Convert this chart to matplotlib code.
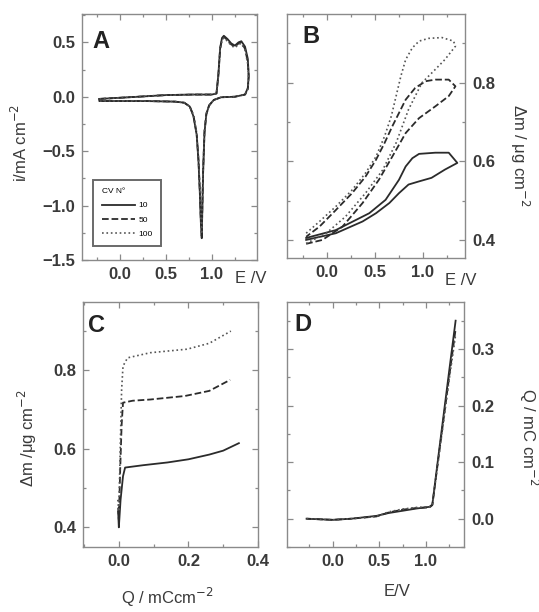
import numpy as np
import matplotlib.pyplot as plt
from matplotlib.ticker import MultipleLocator

plt.rcParams['font.family'] = ['Liberation Sans', 'DejaVu Sans']

# --- A: cyclic voltammograms (E / V, i / mA cm-2), same potential path for all cycles
E_a = [-0.22, 0.2, 0.5, 0.8, 1.0, 1.05, 1.07, 1.09, 1.11, 1.13, 1.17, 1.21, 1.25, 1.29,
       1.32, 1.36, 1.39, 1.40, 1.39, 1.36, 1.25, 1.10, 1.02, 0.97, 0.94, 0.92, 0.905,
       0.895, 0.89, 0.88, 0.87, 0.855, 0.835, 0.80, 0.76, 0.70, 0.6, 0.3, 0.0, -0.22, -0.22]
i_10 = [-0.02, 0.0, 0.015, 0.02, 0.02, 0.03, 0.2, 0.45, 0.54, 0.56, 0.53, 0.49, 0.47, 0.50,
        0.51, 0.46, 0.35, 0.2, 0.08, 0.02, 0.0, -0.005, -0.03, -0.08, -0.16, -0.33, -0.7,
        -1.1, -1.30, -1.15, -0.9, -0.6, -0.35, -0.18, -0.09, -0.055, -0.045, -0.04, -0.04, -0.04, -0.02]
i_50 = [-0.02, 0.0, 0.015, 0.02, 0.02, 0.03, 0.19, 0.44, 0.53, 0.55, 0.52, 0.48, 0.46, 0.49,
        0.50, 0.44, 0.32, 0.18, 0.07, 0.02, 0.0, -0.005, -0.03, -0.08, -0.16, -0.32, -0.68,
        -1.08, -1.28, -1.13, -0.88, -0.58, -0.34, -0.17, -0.09, -0.055, -0.045, -0.04, -0.04, -0.04, -0.02]
i_100 = [-0.02, 0.0, 0.015, 0.02, 0.02, 0.03, 0.18, 0.43, 0.52, 0.54, 0.51, 0.47, 0.45, 0.48,
         0.49, 0.43, 0.30, 0.16, 0.06, 0.02, 0.0, -0.005, -0.03, -0.08, -0.15, -0.31, -0.66,
         -1.05, -1.26, -1.11, -0.86, -0.57, -0.33, -0.17, -0.09, -0.055, -0.045, -0.04, -0.04, -0.04, -0.02]

# --- B: mass change vs potential (loops)
E_b10 = [-0.22, 0.09, 0.37, 0.51, 0.65, 0.75, 0.85, 0.96, 1.09, 1.23, 1.36,
         1.27, 1.13, 0.96, 0.89, 0.82, 0.75, 0.61, 0.44, 0.09, -0.22]
m_b10 = [0.40, 0.417, 0.447, 0.468, 0.494, 0.519, 0.541, 0.549, 0.558, 0.579, 0.596,
         0.622, 0.622, 0.619, 0.608, 0.587, 0.553, 0.502, 0.468, 0.425, 0.405]
E_b50 = [-0.22, -0.05, 0.16, 0.37, 0.54, 0.68, 0.82, 0.96, 1.13, 1.27, 1.34,
         1.27, 1.13, 1.03, 0.92, 0.82, 0.75, 0.68, 0.60, 0.51, 0.40, 0.26, 0.09, -0.08, -0.22]
m_b50 = [0.39, 0.40, 0.434, 0.494, 0.553, 0.612, 0.672, 0.71, 0.74, 0.766, 0.791,
         0.808, 0.808, 0.804, 0.787, 0.757, 0.723, 0.689, 0.647, 0.604, 0.561, 0.519, 0.476, 0.434, 0.408]
E_b100 = [-0.22, -0.01, 0.19, 0.40, 0.58, 0.72, 0.85, 0.99, 1.13, 1.23, 1.34,
          1.32, 1.20, 1.06, 0.96, 0.89, 0.82, 0.77, 0.72, 0.67, 0.60, 0.51, 0.40, 0.26, 0.09, -0.08, -0.22]
m_b100 = [0.391, 0.417, 0.459, 0.519, 0.578, 0.647, 0.732, 0.80, 0.834, 0.859, 0.893,
          0.906, 0.915, 0.913, 0.906, 0.889, 0.859, 0.817, 0.766, 0.715, 0.664, 0.612, 0.570, 0.527, 0.485, 0.447, 0.417]

# --- C: mass change vs charge
Q_c10 = [-0.002, 0.0, 0.005, 0.012, 0.018, 0.07, 0.14, 0.2, 0.26, 0.3, 0.345]
m_c10 = [0.44, 0.40, 0.47, 0.53, 0.552, 0.558, 0.565, 0.573, 0.585, 0.595, 0.614]
Q_c50 = [-0.002, 0.0, 0.004, 0.008, 0.012, 0.04, 0.09, 0.19, 0.26, 0.32]
m_c50 = [0.45, 0.42, 0.55, 0.66, 0.717, 0.722, 0.725, 0.734, 0.747, 0.775]
Q_c100 = [-0.003, 0.0, 0.004, 0.008, 0.012, 0.025, 0.09, 0.196, 0.26, 0.322]
m_c100 = [0.47, 0.44, 0.6, 0.75, 0.81, 0.831, 0.844, 0.853, 0.868, 0.899]

# --- D: charge vs potential
E_d = [-0.28, 0.0, 0.2, 0.47, 0.6, 0.75, 0.9, 1.04, 1.07, 1.15, 1.25, 1.32]
Q_d10 = [0.0, -0.002, 0.0, 0.005, 0.01, 0.014, 0.018, 0.021, 0.025, 0.13, 0.26, 0.35]
Q_d50 = [0.0, -0.002, 0.0, 0.004, 0.011, 0.016, 0.019, 0.02, 0.024, 0.125, 0.25, 0.335]
Q_d100 = [0.0, -0.002, 0.0, 0.004, 0.012, 0.017, 0.02, 0.021, 0.024, 0.122, 0.245, 0.325]

cycles = ['10', '50', '100']
styles = ['-', '--', ':']
colors = ['#2b2b2b', '#2b2b2b', '#555555']
widths = [1.3, 1.3, 1.2]
tc = '#3a3a3a'

W, H = 539, 612
fig = plt.figure(figsize=(W / 100, H / 100), dpi=100)


def box(l, r, t, b):
    return [l / W, (H - b) / H, (r - l) / W, (b - t) / H]


axA = fig.add_axes(box(82, 257, 14, 260))
axB = fig.add_axes(box(287, 465, 14, 258))
axC = fig.add_axes(box(83, 258, 302, 547))
axD = fig.add_axes(box(287, 464, 302, 547))

for ax in (axA, axB, axC, axD):
    for s in ax.spines.values():
        s.set_color('#8a8a8a')
        s.set_linewidth(1.0)
    ax.tick_params(which='both', direction='in', top=True, right=True,
                   color='#8a8a8a', labelcolor=tc, labelsize=12, width=0.9)
    ax.tick_params(which='major', length=4, pad=5)
    ax.tick_params(which='minor', length=2.5)

# A
for i_vals, ls, c, w, lab in zip([i_10, i_50, i_100], styles, colors, widths, cycles):
    axA.plot(E_a, i_vals, ls, color=c, lw=w, label=lab)
axA.set_xlim(-0.41, 1.49)
axA.set_ylim(-1.5, 0.76)
axA.yaxis.set_major_locator(MultipleLocator(0.5))
axA.yaxis.set_minor_locator(MultipleLocator(0.25))
axA.set_xticks([0.0, 0.5, 1.0])
axA.set_xticks(np.arange(-0.25, 1.5, 0.25), minor=True)
leg = axA.legend(title='CV N°', loc='lower left', bbox_to_anchor=(0.04, 0.04),
                 fontsize=6, title_fontsize=6, frameon=True, fancybox=False,
                 handlelength=4.0, handletextpad=0.4, borderpad=1.0,
                 labelspacing=0.75, alignment='left')
leg.get_frame().set_edgecolor('#444')
leg.get_frame().set_linewidth(1.4)

# B
for E_v, m_v, ls, c, w in zip([E_b10, E_b50, E_b100], [m_b10, m_b50, m_b100], styles, colors, widths):
    axB.plot(E_v, m_v, ls, color=c, lw=w)
axB.set_xlim(-0.42, 1.44)
axB.set_ylim(0.354, 0.975)
axB.set_xticks([0.0, 0.5, 1.0])
axB.set_xticks(np.arange(-0.25, 1.45, 0.25), minor=True)
axB.yaxis.set_major_locator(MultipleLocator(0.2))
axB.yaxis.set_minor_locator(MultipleLocator(0.1))
axB.tick_params(labelleft=False, labelright=True)

# C
for Q_v, m_v, ls, c, w in zip([Q_c10, Q_c50, Q_c100], [m_c10, m_c50, m_c100], styles, colors, widths):
    axC.plot(Q_v, m_v, ls, color=c, lw=w)
axC.set_xlim(-0.103, 0.4)
axC.set_ylim(0.35, 0.973)
axC.xaxis.set_major_locator(MultipleLocator(0.2))
axC.xaxis.set_minor_locator(MultipleLocator(0.1))
axC.yaxis.set_major_locator(MultipleLocator(0.2))
axC.yaxis.set_minor_locator(MultipleLocator(0.1))

# D
for Q_v, ls, c, w in zip([Q_d10, Q_d50, Q_d100], styles, colors, widths):
    axD.plot(E_d, Q_v, ls, color=c, lw=w)
axD.set_xlim(-0.49, 1.41)
axD.set_ylim(-0.05, 0.383)
axD.set_xticks([0.0, 0.5, 1.0])
axD.set_xticks(np.arange(-0.25, 1.45, 0.25), minor=True)
axD.yaxis.set_major_locator(MultipleLocator(0.1))
axD.yaxis.set_minor_locator(MultipleLocator(0.05))
axD.tick_params(labelleft=False, labelright=True)

for ax in (axA, axB, axC, axD):
    for lab in ax.get_xticklabels() + ax.get_yticklabels():
        lab.set_fontweight('bold')

# panel letters
for ax, letter, x, y in [(axA, 'A', 0.06, 0.935), (axB, 'B', 0.085, 0.955),
                         (axC, 'C', 0.03, 0.95), (axD, 'D', 0.04, 0.955)]:
    ax.text(x, y, letter, transform=ax.transAxes, fontsize=17, fontweight='bold',
            color='#222', ha='left', va='top')

# axis labels
lab_kw = dict(color=tc, fontsize=12, ha='center', va='center')
axA.text(-0.354, 0.476, 'i/mA cm$^{-2}$', rotation=90, transform=axA.transAxes, **lab_kw)
axA.text(0.966, -0.077, 'E /V', transform=axA.transAxes, **lab_kw)
axB.text(0.978, -0.094, 'E /V', transform=axB.transAxes, **lab_kw)
axB.text(1.309, 0.422, 'Δm / μg cm$^{-2}$', rotation=-90, transform=axB.transAxes, **lab_kw)
axC.text(-0.32, 0.445, 'Δm /μg cm$^{-2}$', rotation=90, transform=axC.transAxes, **lab_kw)
axC.text(0.48, -0.207, 'Q / mCcm$^{-2}$', transform=axC.transAxes, **lab_kw)
axD.text(0.62, -0.18, 'E/V', transform=axD.transAxes, **lab_kw)
axD.text(1.367, 0.449, 'Q / mC cm$^{-2}$', rotation=-90, transform=axD.transAxes, **lab_kw)

fig.savefig('out.png', dpi=100)
